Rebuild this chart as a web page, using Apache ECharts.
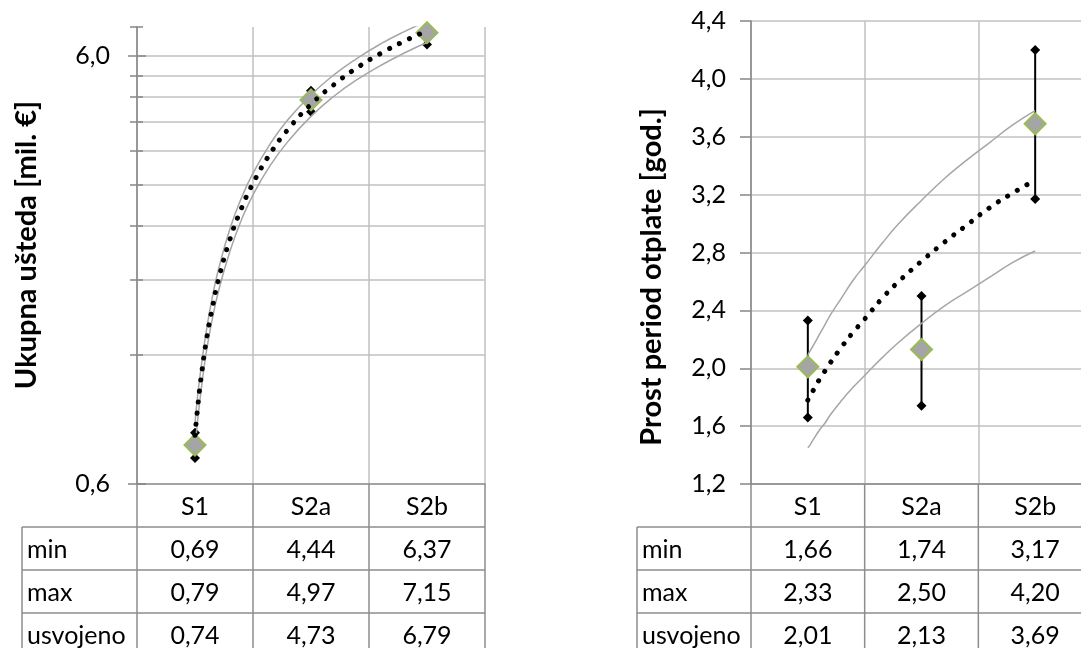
<!DOCTYPE html>
<html><head><meta charset="utf-8">
<script src="https://cdn.jsdelivr.net/npm/echarts@6/dist/echarts.min.js"></script>
<style>html,body{margin:0;padding:0;background:#fff}#c{width:1081px;height:648px}</style>
</head><body><div id="c"></div>
<script>
// ---------- data ----------
const categories = ['S1', 'S2a', 'S2b'];
const rowLabels = ['min', 'max', 'usvojeno'];

// left chart: Ukupna ušteda [mil. €]
const savingMin = [0.69, 4.44, 6.37];
const savingMax = [0.79, 4.97, 7.15];
const savingAdopted = [0.74, 4.73, 6.79];

// right chart: Prost period otplate [god.]
const paybackMin = [1.66, 1.74, 3.17];
const paybackMax = [2.33, 2.50, 4.20];
const paybackAdopted = [2.01, 2.13, 3.69];

// trendlines (x in category units: 1 = S1, 2 = S2a, 3 = S2b)
const trendX = [1, 1.02, 1.05, 1.1, 1.15, 1.2, 1.3, 1.4, 1.5, 1.65, 1.8, 2.0, 2.2, 2.4, 2.6, 2.8, 3.0];
const savingTrendAdopted = [0.78, 0.89, 1.05, 1.31, 1.55, 1.79, 2.23, 2.64, 3.02, 3.55, 4.03, 4.62, 5.14, 5.63, 6.07, 6.48, 6.86];
const savingTrendMax = [0.83, 0.95, 1.11, 1.38, 1.64, 1.89, 2.36, 2.79, 3.19, 3.74, 4.25, 4.86, 5.42, 5.92, 6.39, 6.82, 7.22];
const savingTrendMin = [0.73, 0.83, 0.98, 1.23, 1.46, 1.68, 2.09, 2.48, 2.84, 3.33, 3.78, 4.33, 4.83, 5.28, 5.69, 6.08, 6.44];
const paybackTrendAdopted = [1.78, 1.81, 1.85, 1.92, 1.98, 2.04, 2.15, 2.25, 2.34, 2.48, 2.60, 2.74, 2.87, 2.99, 3.11, 3.21, 3.30];
const paybackTrendMax = [2.09, 2.12, 2.16, 2.23, 2.30, 2.37, 2.49, 2.61, 2.71, 2.86, 3.00, 3.16, 3.31, 3.44, 3.56, 3.68, 3.78];
const paybackTrendMin = [1.45, 1.47, 1.51, 1.57, 1.62, 1.68, 1.78, 1.87, 1.95, 2.07, 2.18, 2.31, 2.43, 2.53, 2.63, 2.73, 2.81];

// left (log) axis: gridlines, ticks and labels
const leftGridValues = [1.2, 1.8, 2.4, 3.0, 3.6, 4.2, 4.8, 5.4, 6.0];
const leftTickValues = [0.6, 1.2, 1.8, 2.4, 3.0, 3.6, 4.2, 4.8, 5.4, 6.0, 7.0];
const leftLabelValues = [0.6, 6.0];
const leftLabels = ['0,6', '6,0'];
const leftAxisMin = 0.6, leftAxisMax = 7.0;

// right axis
const rightAxisMin = 1.2, rightAxisMax = 4.4, rightAxisStep = 0.4;

const leftTitle = 'Ukupna ušteda [mil. €]';
const rightTitle = 'Prost period otplate [god.]';

// ---------- styles / layout ----------
const FONT = 'Lato';
const FS = 25, TITLE_FS = 29;
const AXIS_C = '#868686', GRID_C = '#c0c0c0', TABLE_C = '#8c8c8c';
const TREND_GRAY = '#a6a6a6';
const fmt = v => v.toFixed(2).replace('.', ',');

const LG = {left: 137, top: 27, width: 348, height: 457};
const RG = {left: 751, top: 21, width: 341, height: 463};

function errorSeries(xi, yi, mins, maxs) {
  return categories.map((c, i) => ({
    type: 'line', xAxisIndex: xi, yAxisIndex: yi, z: 3, silent: true,
    data: [[i + 1, mins[i]], [i + 1, maxs[i]]],
    symbol: 'diamond', symbolSize: 10, showSymbol: true,
    itemStyle: {color: '#000'}, lineStyle: {color: '#000', width: 2}
  }));
}
function adoptedSeries(xi, yi, vals) {
  return {
    type: 'scatter', xAxisIndex: xi, yAxisIndex: yi, z: 4, silent: true,
    data: vals.map((v, i) => [i + 1, v]),
    symbol: 'diamond', symbolSize: 21,
    itemStyle: {color: '#a5a5a5', borderColor: '#9bbb59', borderWidth: 2, opacity: 1}
  };
}
function trendSeries(xi, yi, vals, dotted) {
  return {
    type: 'line', xAxisIndex: xi, yAxisIndex: yi, z: 5, silent: true,
    data: trendX.map((x, i) => [x, vals[i]]),
    showSymbol: false, symbol: 'none', smooth: true, clip: true,
    lineStyle: dotted
      ? {color: '#000', width: 5, type: [0.1, 11], cap: 'round'}
      : {color: TREND_GRAY, width: 1.5}
  };
}

function line(x1, y1, x2, y2) {
  return {type: 'line', silent: true, z: 10, shape: {x1, y1, x2, y2}, style: {stroke: TABLE_C, lineWidth: 1.5}};
}
function txt(t, x, y, align, bold, rot) {
  return {
    type: 'text', x, y, silent: true, z: 10, rotation: rot || 0,
    style: {
      text: t, fill: '#000', font: (bold ? 'bold ' + TITLE_FS : FS) + 'px ' + FONT,
      align, textAlign: align, verticalAlign: 'middle', textVerticalAlign: 'middle'
    }
  };
}
function tableGraphics(labelLeft, colEdges, rows) {
  const rowY = [484, 527, 570, 613, 656];
  const els = [];
  for (let r = 1; r <= 3; r++) els.push(line(labelLeft, rowY[r], colEdges[3], rowY[r]));
  els.push(line(labelLeft, rowY[1], labelLeft, rowY[4]));
  colEdges.forEach(x => els.push(line(x, rowY[0], x, rowY[4])));
  categories.forEach((c, i) => els.push(txt(c, (colEdges[i] + colEdges[i + 1]) / 2, (rowY[0] + rowY[1]) / 2 + 1, 'center')));
  rows.forEach((arr, r) => {
    const my = (rowY[r + 1] + rowY[r + 2]) / 2 + 1;
    els.push(txt(rowLabels[r], labelLeft + 5, my, 'left'));
    arr.forEach((v, i) => els.push(txt(fmt(v), (colEdges[i] + colEdges[i + 1]) / 2, my, 'center')));
  });
  return els;
}

const lw = LG.width / 3, rw = RG.width / 3;
const leftEdges = [0, 1, 2, 3].map(k => LG.left + k * lw);
const rightEdges = [0, 1, 2, 3].map(k => RG.left + k * rw);

const chart = echarts.init(document.getElementById('c'), null, {renderer: 'canvas'});

const option = {
  animation: false,
  backgroundColor: '#fff',
  textStyle: {fontFamily: FONT},
  grid: [
    Object.assign({outerBoundsMode: 'none', containLabel: false}, LG),
    Object.assign({outerBoundsMode: 'none', containLabel: false}, RG)
  ],
  xAxis: [
    {type: 'category', gridIndex: 0, data: categories, boundaryGap: true,
     axisLine: {lineStyle: {color: AXIS_C, width: 1.5}}, axisTick: {show: false}, axisLabel: {show: false},
     splitLine: {show: true, lineStyle: {color: GRID_C, width: 1.5}}},
    {type: 'value', gridIndex: 0, min: 0.5, max: 3.5, show: false, splitLine: {show: false}},
    {type: 'category', gridIndex: 1, data: categories, boundaryGap: true,
     axisLine: {lineStyle: {color: AXIS_C, width: 1.5}}, axisTick: {show: false}, axisLabel: {show: false},
     splitLine: {show: true, lineStyle: {color: GRID_C, width: 1.5}}},
    {type: 'value', gridIndex: 1, min: 0.5, max: 3.5, show: false, splitLine: {show: false}}
  ],
  yAxis: [
    {type: 'log', logBase: 10, gridIndex: 0, min: leftAxisMin, max: leftAxisMax,
     axisLine: {show: true, lineStyle: {color: AXIS_C, width: 1.5}},
     axisTick: {show: false}, axisLabel: {show: false}, splitLine: {show: false}, minorTick: {show: false}},
    {type: 'value', gridIndex: 1, min: rightAxisMin, max: rightAxisMax, interval: rightAxisStep,
     axisLine: {show: true, lineStyle: {color: AXIS_C, width: 1.5}},
     axisTick: {show: true, length: 11, lineStyle: {color: AXIS_C, width: 1.5}},
     axisLabel: {margin: 25, fontSize: FS, color: '#000', fontFamily: FONT,
                 formatter: v => v.toFixed(1).replace('.', ',')},
     splitLine: {show: true, lineStyle: {color: GRID_C, width: 1.5}}}
  ],
  series: [
    // left gridlines
    {type: 'line', xAxisIndex: 1, yAxisIndex: 0, data: [], silent: true,
     markLine: {silent: true, symbol: 'none', z: 1, animation: false, label: {show: false},
                lineStyle: {color: GRID_C, width: 1.5, type: 'solid'},
                data: leftGridValues.map(v => ({yAxis: v}))}},
    // left ticks + labels
    {type: 'line', xAxisIndex: 1, yAxisIndex: 0, data: [], silent: true,
     markLine: {silent: true, symbol: 'none', z: 2, animation: false,
                label: {show: true, position: 'start', formatter: '{b}', distance: 18,
                        fontSize: FS, color: '#000', fontFamily: FONT},
                lineStyle: {color: AXIS_C, width: 1.5, type: 'solid'},
                data: leftTickValues.map(v => {
                  const k = leftLabelValues.indexOf(v);
                  const major = k >= 0;
                  return [{name: major ? leftLabels[k] : '', x: major ? 128 : 130, yAxis: v},
                          {x: major ? 146 : 143, yAxis: v}];
                })}},
    ...errorSeries(1, 0, savingMin, savingMax),
    adoptedSeries(1, 0, savingAdopted),
    trendSeries(1, 0, savingTrendMax, false),
    trendSeries(1, 0, savingTrendMin, false),
    trendSeries(1, 0, savingTrendAdopted, true),

    ...errorSeries(3, 1, paybackMin, paybackMax),
    adoptedSeries(3, 1, paybackAdopted),
    trendSeries(3, 1, paybackTrendMax, false),
    trendSeries(3, 1, paybackTrendMin, false),
    trendSeries(3, 1, paybackTrendAdopted, true)
  ],
  graphic: {elements: [
    ...tableGraphics(22, leftEdges, [savingMin, savingMax, savingAdopted]),
    ...tableGraphics(637, rightEdges, [paybackMin, paybackMax, paybackAdopted]),
    txt(leftTitle, 27, 245, 'center', true, Math.PI / 2),
    txt(rightTitle, 652, 277, 'center', true, Math.PI / 2)
  ]}
};
chart.setOption(option);
</script>
</body></html>
